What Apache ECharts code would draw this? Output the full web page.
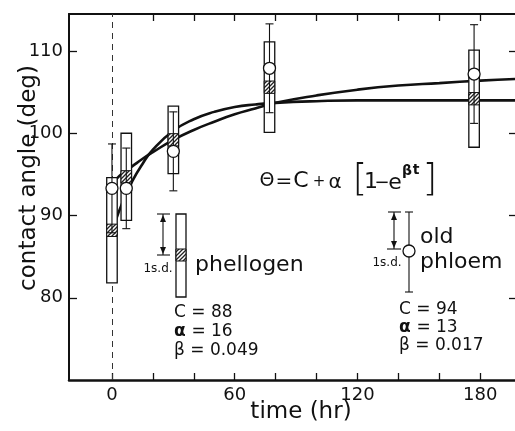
<!DOCTYPE html>
<html>
<head>
<meta charset="utf-8">
<script src="https://cdn.jsdelivr.net/npm/echarts@6/dist/echarts.min.js"></script>
<style>
  html, body { margin: 0; padding: 0; background: #fff; }
  #chart { width: 515px; height: 431px; }
</style>
</head>
<body>
<div id="chart"></div>
<script>
// sampling times (hr)
var times = [0, 7, 30, 77, 177]
// phellogen: mean and 1 s.d. (deg) -> drawn as boxes
var phellogenMean = [88.2, 94.7, 99.2, 105.6, 104.2]
var phellogenSd = [6.4, 5.3, 4.1, 5.5, 5.9]
// old phloem: mean and 1 s.d. (deg) -> drawn as circles with bars
var phloemMean = [93.3, 93.3, 97.8, 107.9, 107.2]
var phloemSd = [5.4, 4.9, 4.8, 5.4, 6.0]
// fitted curves
var curveTimes = [2, 5, 10, 15, 20, 30, 40, 50, 60, 70, 80, 100, 120, 140, 160, 180, 197]
var phellogenFit = [89.5, 91.5, 94.2, 96.3, 98.0, 100.3, 101.7, 102.6, 103.2, 103.5, 103.7, 103.9, 104.0, 104.0, 104.0, 104.0, 104.0]
var phloemFit = [94.4, 95.1, 96.0, 96.9, 97.7, 99.2, 100.4, 101.4, 102.3, 103.0, 103.7, 104.6, 105.3, 105.8, 106.1, 106.4, 106.6]
// axis ticks
var xTicks = [0, 20, 40, 60, 80, 100, 120, 140, 160, 180]
var xLabels = [0, 60, 120, 180]
var yTicks = [80, 90, 100, 110]

var FONT = 'DejaVu Sans'
var INK = '#111'

// diagonal hatch for the phellogen mean
var hatch = document.createElement('canvas')
hatch.width = 4
hatch.height = 4
var hctx = hatch.getContext('2d')
hctx.fillStyle = '#fff'
hctx.fillRect(0, 0, 4, 4)
hctx.strokeStyle = '#222'
hctx.lineWidth = 1.3
hctx.beginPath()
hctx.moveTo(0, 4); hctx.lineTo(4, 0)
hctx.moveTo(-1, 1); hctx.lineTo(1, -1)
hctx.moveTo(3, 5); hctx.lineTo(5, 3)
hctx.stroke()

function zip (a, b) {
  return a.map(function (v, i) { return [v, b[i]] })
}

function renderBox (params, api) {
  var t = api.value(0)
  var m = api.value(1)
  var s = api.value(2)
  var top = api.coord([t, m + s])
  var bot = api.coord([t, m - s])
  var hTop = api.coord([t, m + 0.75])
  var hBot = api.coord([t, m - 0.75])
  var w = 10.5
  return {
    type: 'group',
    children: [
      { type: 'rect', shape: { x: top[0] - w / 2, y: top[1], width: w, height: bot[1] - top[1] }, style: { fill: '#fff', stroke: INK, lineWidth: 1.3 } },
      { type: 'rect', shape: { x: top[0] - w / 2, y: hTop[1], width: w, height: hBot[1] - hTop[1] }, style: { fill: { image: hatch, repeat: 'repeat' }, stroke: INK, lineWidth: 1 } }
    ]
  }
}

function renderBar (params, api) {
  var t = api.value(0)
  var m = api.value(1)
  var s = api.value(2)
  var c = api.coord([t, m])
  var top = api.coord([t, m + s])
  var bot = api.coord([t, m - s])
  var cap = 4
  var st = { stroke: INK, lineWidth: 1.1 }
  return {
    type: 'group',
    children: [
      { type: 'line', shape: { x1: c[0], y1: top[1], x2: c[0], y2: bot[1] }, style: st },
      { type: 'line', shape: { x1: c[0] - cap, y1: top[1], x2: c[0] + cap, y2: top[1] }, style: st },
      { type: 'line', shape: { x1: c[0] - cap, y1: bot[1], x2: c[0] + cap, y2: bot[1] }, style: st },
      { type: 'circle', shape: { cx: c[0], cy: c[1], r: 6 }, style: { fill: '#fff', stroke: INK, lineWidth: 1.3 } }
    ]
  }
}

function txt (x, y, s, size, extra) {
  var style = { text: s, x: x, y: y, font: (extra && extra.weight ? extra.weight + ' ' : '') + size + 'px "' + FONT + '"', fill: INK, align: (extra && extra.align) || 'left', verticalAlign: 'middle' }
  var el = { type: 'text', style: style, z: 100 }
  if (extra && extra.rotation) {
    el.x = x; el.y = y; style.x = 0; style.y = 0
    el.rotation = extra.rotation
  }
  return el
}
function seg (x1, y1, x2, y2, w) {
  return { type: 'line', shape: { x1: x1, y1: y1, x2: x2, y2: y2 }, style: { stroke: INK, lineWidth: w || 1.1 }, z: 100 }
}
function tri (pts) {
  return { type: 'polygon', shape: { points: pts }, style: { fill: INK }, z: 100 }
}

var chart = echarts.init(document.getElementById('chart'), null, { renderer: 'canvas' })

var graphics = [
  // axis titles
  txt(29, 178, 'contact angle (deg)', 23, { align: 'center', rotation: Math.PI / 2 }),
  txt(301, 412, 'time (hr)', 23, { align: 'center' }),
  // equation
  txt(267, 181, 'Θ', 19, { align: 'center' }),
  txt(284, 182, '=', 20, { align: 'center' }),
  txt(301, 181, 'C', 22, { align: 'center' }),
  txt(319, 182, '+', 15, { align: 'center' }),
  txt(335, 183, 'α', 20, { align: 'center' }),
  txt(360, 180, '[', 38, { align: 'center', weight: 'lighter' }),
  txt(371, 182, '1', 22, { align: 'center' }),
  txt(382, 183, '−', 18, { align: 'center' }),
  txt(395, 183, 'e', 22, { align: 'center' }),
  txt(407, 171, 'β', 14, { align: 'center', weight: 'bold' }),
  txt(416, 170, 't', 14, { align: 'center', weight: 'bold' }),
  txt(430, 180, ']', 38, { align: 'center', weight: 'lighter' }),
  // phellogen key
  { type: 'rect', shape: { x: 176, y: 214, width: 10, height: 83 }, style: { fill: '#fff', stroke: INK, lineWidth: 1.3 }, z: 100 },
  { type: 'rect', shape: { x: 176, y: 249, width: 10, height: 12 }, style: { fill: { image: hatch, repeat: 'repeat' }, stroke: INK, lineWidth: 1 }, z: 100 },
  seg(163, 214, 163, 255),
  seg(157, 214, 170, 214),
  seg(157, 255, 170, 255),
  tri([[163, 215], [160, 222], [166, 222]]),
  tri([[163, 254], [160, 247], [166, 247]]),
  txt(158, 269, '1s.d.', 12, { align: 'center' }),
  txt(195, 265, 'phellogen', 22),
  txt(174, 313, 'C = 88', 17),
  txt(174, 332, 'α', 17, { weight: 'bold' }),
  txt(186, 332, ' = 16', 17),
  txt(174, 351, 'β = 0.049', 17),
  // old phloem key
  seg(409, 212, 409, 292),
  seg(405, 212, 413, 212),
  seg(405, 292, 413, 292),
  { type: 'circle', shape: { cx: 409, cy: 251, r: 6 }, style: { fill: '#fff', stroke: INK, lineWidth: 1.3 }, z: 101 },
  seg(394, 212, 394, 249),
  seg(388, 212, 401, 212),
  seg(387, 249, 401, 249),
  tri([[394, 213], [391, 220], [397, 220]]),
  tri([[394, 248], [391, 241], [397, 241]]),
  txt(387, 263, '1s.d.', 12, { align: 'center' }),
  txt(420, 237, 'old', 22),
  txt(420, 262, 'phloem', 22),
  txt(399, 310, 'C = 94', 17),
  txt(399, 328, 'α', 17, { weight: 'bold' }),
  txt(411, 328, ' = 13', 17),
  txt(399, 346, 'β = 0.017', 17)
]

var option = {
  animation: false,
  backgroundColor: '#fff',
  grid: { left: 69, right: 0, top: 14, bottom: 51 },
  xAxis: [
    {
      type: 'value', min: -21, max: 197, position: 'bottom',
      axisLine: { onZero: false, lineStyle: { color: INK, width: 2.5 } },
      axisTick: { inside: true, length: 7, customValues: xTicks, lineStyle: { color: INK, width: 1.3 } },
      axisLabel: { customValues: xLabels, margin: 6, fontFamily: FONT, fontSize: 18, color: INK },
      splitLine: { show: false }
    },
    {
      type: 'value', min: -21, max: 197, position: 'top',
      axisLine: { onZero: false, lineStyle: { color: INK, width: 2.2 } },
      axisTick: { inside: true, length: 7, customValues: xTicks.slice(1), lineStyle: { color: INK, width: 1.3 } },
      axisLabel: { show: false },
      splitLine: { show: false }
    }
  ],
  yAxis: [
    {
      type: 'value', min: 70, max: 114.5, position: 'left',
      axisLine: { show: true, onZero: false, lineStyle: { color: INK, width: 2 } },
      axisTick: { show: true, inside: true, length: 8, customValues: yTicks, lineStyle: { color: INK, width: 1.3 } },
      axisLabel: { customValues: yTicks, margin: 6, fontFamily: FONT, fontSize: 18, color: INK },
      splitLine: { show: false }
    },
    {
      type: 'value', min: 70, max: 114.5, position: 'right',
      axisLine: { show: false, onZero: false },
      axisTick: { show: true, inside: true, length: 6, customValues: yTicks, lineStyle: { color: INK, width: 1.3 } },
      axisLabel: { show: false },
      splitLine: { show: false }
    }
  ],
  series: [
    {
      name: 'phellogen fit', type: 'line', data: zip(curveTimes, phellogenFit),
      smooth: true, showSymbol: false, z: 2,
      lineStyle: { color: INK, width: 2.6 },
      markLine: {
        silent: true, symbol: 'none', label: { show: false },
        lineStyle: { color: '#333', width: 1, type: [6, 5] },
        data: [{ xAxis: 0 }]
      }
    },
    {
      name: 'old phloem fit', type: 'line', data: zip(curveTimes, phloemFit),
      smooth: true, showSymbol: false, z: 2,
      lineStyle: { color: INK, width: 2.6 }
    },
    {
      name: 'phellogen', type: 'custom', z: 5,
      data: times.map(function (t, i) { return [t, phellogenMean[i], phellogenSd[i]] }),
      renderItem: renderBox
    },
    {
      name: 'old phloem', type: 'custom', z: 6,
      data: times.map(function (t, i) { return [t, phloemMean[i], phloemSd[i]] }),
      renderItem: renderBar
    }
  ],
  graphic: graphics
}

chart.setOption(option)
</script>
</body>
</html>
